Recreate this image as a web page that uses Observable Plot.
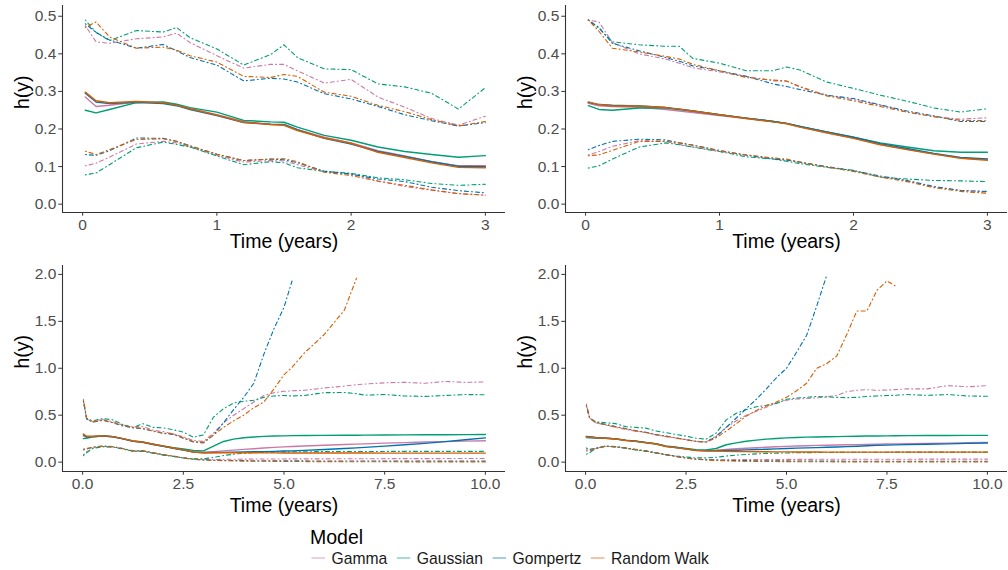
<!DOCTYPE html>
<html>
<head>
<meta charset="utf-8">
<script src="https://cdn.jsdelivr.net/npm/d3@7"></script>
<script src="https://cdn.jsdelivr.net/npm/@observablehq/plot@0.6"></script>
<style>
  html, body { margin: 0; padding: 0; background: #fff; }
  #chart { position: relative; width: 1008px; height: 570px; background: #fff; overflow: hidden; }
</style>
</head>
<body>
<div id="chart"></div>
<script>
// Hazard estimates h(y) over time: posterior mean (solid) and interval bounds (dot-dash)
const models = ["Gamma", "Gaussian", "Gompertz", "Random Walk"];
const modelColors = ["#CC79A7", "#009E73", "#0072B2", "#D55E00"];

// ---- Top row: 0–3 years ----
const tTop = [0.02, 0.1, 0.2, 0.4, 0.6, 0.7, 0.8, 1.0, 1.2, 1.4, 1.5, 1.6, 1.8, 2.0, 2.2, 2.4, 2.6, 2.8, 3.0];

// top-left
const gammaUpA = [0.475, 0.432, 0.428, 0.44, 0.445, 0.455, 0.43, 0.395, 0.362, 0.372, 0.372, 0.355, 0.322, 0.332, 0.285, 0.258, 0.228, 0.21, 0.234];
const gaussUpA = [0.49, 0.457, 0.435, 0.462, 0.458, 0.47, 0.443, 0.413, 0.37, 0.398, 0.424, 0.39, 0.36, 0.358, 0.32, 0.312, 0.295, 0.253, 0.31];
const gompUpA  = [0.48, 0.457, 0.437, 0.415, 0.425, 0.408, 0.39, 0.37, 0.328, 0.335, 0.333, 0.325, 0.294, 0.28, 0.26, 0.238, 0.222, 0.208, 0.217];
const rwUpA    = [0.47, 0.485, 0.445, 0.415, 0.418, 0.41, 0.395, 0.378, 0.34, 0.337, 0.345, 0.34, 0.298, 0.287, 0.263, 0.246, 0.225, 0.208, 0.22];
const gammaMidA = [0.285, 0.26, 0.263, 0.272, 0.27, 0.264, 0.255, 0.238, 0.22, 0.212, 0.211, 0.198, 0.178, 0.163, 0.142, 0.128, 0.113, 0.102, 0.102];
const gaussMidA = [0.25, 0.243, 0.252, 0.27, 0.272, 0.266, 0.257, 0.245, 0.223, 0.219, 0.218, 0.205, 0.183, 0.17, 0.152, 0.14, 0.132, 0.125, 0.129];
const gompMidA  = [0.295, 0.272, 0.268, 0.271, 0.268, 0.262, 0.252, 0.236, 0.217, 0.213, 0.212, 0.198, 0.175, 0.16, 0.14, 0.127, 0.113, 0.101, 0.1];
const rwMidA    = [0.298, 0.275, 0.27, 0.273, 0.27, 0.263, 0.254, 0.237, 0.218, 0.212, 0.21, 0.196, 0.176, 0.162, 0.138, 0.124, 0.11, 0.098, 0.097];
const gammaLoA = [0.102, 0.109, 0.125, 0.16, 0.167, 0.163, 0.152, 0.13, 0.112, 0.116, 0.115, 0.105, 0.086, 0.08, 0.062, 0.047, 0.037, 0.028, 0.024];
const gaussLoA = [0.078, 0.083, 0.105, 0.15, 0.165, 0.159, 0.152, 0.128, 0.105, 0.113, 0.11, 0.097, 0.087, 0.082, 0.07, 0.065, 0.055, 0.05, 0.053];
const gompLoA  = [0.132, 0.13, 0.142, 0.176, 0.175, 0.167, 0.155, 0.133, 0.116, 0.12, 0.118, 0.11, 0.088, 0.08, 0.067, 0.06, 0.045, 0.036, 0.03];
const rwLoA    = [0.141, 0.132, 0.145, 0.172, 0.174, 0.167, 0.155, 0.133, 0.116, 0.12, 0.121, 0.113, 0.085, 0.076, 0.061, 0.05, 0.038, 0.028, 0.024];

// top-right
const gammaUpB = [0.49, 0.485, 0.43, 0.4, 0.386, 0.375, 0.363, 0.352, 0.34, 0.328, 0.327, 0.313, 0.29, 0.278, 0.264, 0.245, 0.233, 0.226, 0.23];
const gaussUpB = [0.49, 0.468, 0.432, 0.424, 0.42, 0.42, 0.388, 0.375, 0.355, 0.355, 0.365, 0.357, 0.325, 0.308, 0.29, 0.274, 0.256, 0.245, 0.254];
const gompUpB  = [0.49, 0.47, 0.428, 0.408, 0.39, 0.38, 0.368, 0.355, 0.34, 0.32, 0.313, 0.305, 0.29, 0.281, 0.264, 0.248, 0.235, 0.22, 0.22];
const rwUpB    = [0.49, 0.46, 0.415, 0.405, 0.393, 0.386, 0.372, 0.355, 0.337, 0.33, 0.328, 0.312, 0.288, 0.275, 0.26, 0.245, 0.233, 0.223, 0.222];
const gammaMidB = [0.268, 0.262, 0.26, 0.258, 0.252, 0.248, 0.244, 0.236, 0.228, 0.22, 0.215, 0.206, 0.19, 0.176, 0.159, 0.146, 0.134, 0.123, 0.119];
const gaussMidB = [0.262, 0.252, 0.25, 0.256, 0.256, 0.252, 0.248, 0.238, 0.229, 0.22, 0.215, 0.207, 0.192, 0.178, 0.163, 0.152, 0.142, 0.138, 0.138];
const gompMidB  = [0.271, 0.265, 0.263, 0.261, 0.257, 0.253, 0.248, 0.238, 0.229, 0.22, 0.215, 0.207, 0.192, 0.178, 0.161, 0.148, 0.135, 0.124, 0.12];
const rwMidB    = [0.272, 0.265, 0.261, 0.261, 0.257, 0.253, 0.248, 0.238, 0.228, 0.219, 0.214, 0.205, 0.19, 0.175, 0.158, 0.145, 0.133, 0.122, 0.117];
const gammaLoB = [0.131, 0.14, 0.154, 0.169, 0.167, 0.159, 0.152, 0.14, 0.131, 0.122, 0.118, 0.111, 0.099, 0.088, 0.073, 0.062, 0.046, 0.037, 0.033];
const gaussLoB = [0.096, 0.102, 0.12, 0.152, 0.163, 0.158, 0.152, 0.14, 0.126, 0.12, 0.114, 0.108, 0.098, 0.09, 0.072, 0.067, 0.063, 0.062, 0.06];
const gompLoB  = [0.145, 0.156, 0.167, 0.173, 0.171, 0.163, 0.157, 0.143, 0.13, 0.12, 0.117, 0.112, 0.1, 0.089, 0.075, 0.063, 0.047, 0.036, 0.034];
const rwLoB    = [0.129, 0.131, 0.143, 0.167, 0.167, 0.163, 0.157, 0.142, 0.131, 0.123, 0.12, 0.112, 0.099, 0.087, 0.072, 0.06, 0.044, 0.034, 0.029];

// ---- Bottom row: 0–10 years ----
// bottom-left
const tC = [0.02, 0.1, 0.25, 0.5, 0.75, 1, 1.25, 1.5, 1.75, 2, 2.25, 2.5, 2.75, 3, 3.25, 3.5, 3.75, 4, 4.25, 4.5, 4.75, 5, 5.2, 5.5, 6, 6.5, 6.8, 7, 7.5, 8, 8.5, 9, 9.5, 10];
const gammaUpC = [0.67, 0.46, 0.43, 0.455, 0.43, 0.395, 0.375, 0.38, 0.34, 0.325, 0.3, 0.27, 0.23, 0.22, 0.31, 0.42, 0.5, 0.57, 0.64, 0.71, 0.74, 0.755, 0.76, 0.765, 0.79, 0.81, 0.825, 0.832, 0.845, 0.85, 0.84, 0.86, 0.85, 0.855];
const gaussUpC = [0.65, 0.46, 0.44, 0.465, 0.45, 0.4, 0.37, 0.41, 0.37, 0.365, 0.345, 0.32, 0.265, 0.29, 0.48, 0.57, 0.63, 0.648, 0.66, 0.69, 0.705, 0.71, 0.705, 0.71, 0.74, 0.742, 0.73, 0.714, 0.72, 0.705, 0.7, 0.71, 0.72, 0.718];
const gompUpC  = [0.65, 0.46, 0.425, 0.445, 0.42, 0.385, 0.365, 0.355, 0.33, 0.305, 0.295, 0.255, 0.215, 0.205, 0.29, 0.42, 0.56, 0.69, 0.84, 1.15, 1.42, 1.65, 1.93];
const rwUpC    = [0.66, 0.47, 0.43, 0.45, 0.42, 0.39, 0.37, 0.36, 0.33, 0.31, 0.3, 0.26, 0.22, 0.21, 0.29, 0.37, 0.44, 0.5, 0.58, 0.64, 0.78, 0.93, 1.01, 1.16, 1.36, 1.62, 1.96];
const gammaMidC = [0.28, 0.265, 0.27, 0.278, 0.27, 0.248, 0.224, 0.21, 0.19, 0.17, 0.15, 0.13, 0.11, 0.105, 0.112, 0.12, 0.128, 0.136, 0.143, 0.15, 0.157, 0.163, 0.167, 0.172, 0.18, 0.188, 0.192, 0.195, 0.202, 0.208, 0.214, 0.219, 0.224, 0.228];
const gaussMidC = [0.25, 0.255, 0.27, 0.278, 0.272, 0.25, 0.226, 0.214, 0.192, 0.172, 0.155, 0.14, 0.125, 0.12, 0.17, 0.22, 0.245, 0.26, 0.268, 0.274, 0.278, 0.28, 0.282, 0.283, 0.285, 0.286, 0.287, 0.288, 0.289, 0.29, 0.291, 0.292, 0.293, 0.294];
const gompMidC  = [0.29, 0.27, 0.272, 0.278, 0.27, 0.248, 0.223, 0.21, 0.188, 0.168, 0.148, 0.128, 0.107, 0.1, 0.102, 0.104, 0.106, 0.108, 0.11, 0.112, 0.115, 0.118, 0.12, 0.125, 0.135, 0.145, 0.152, 0.157, 0.17, 0.185, 0.2, 0.218, 0.238, 0.258];
const rwMidC    = [0.3, 0.275, 0.275, 0.28, 0.272, 0.25, 0.225, 0.212, 0.19, 0.17, 0.15, 0.13, 0.108, 0.1, 0.1, 0.1, 0.1, 0.1, 0.1, 0.099, 0.099, 0.098, 0.098, 0.098, 0.097, 0.097, 0.097, 0.097, 0.096, 0.096, 0.096, 0.096, 0.096, 0.096];
const gammaLoC = [0.08, 0.11, 0.15, 0.165, 0.16, 0.14, 0.118, 0.118, 0.098, 0.078, 0.063, 0.045, 0.032, 0.028, 0.028, 0.03, 0.031, 0.032, 0.033, 0.033, 0.034, 0.034, 0.035, 0.035, 0.035, 0.036, 0.036, 0.036, 0.037, 0.037, 0.037, 0.038, 0.038, 0.038];
const gaussLoC = [0.07, 0.1, 0.145, 0.165, 0.16, 0.14, 0.115, 0.115, 0.095, 0.075, 0.06, 0.045, 0.035, 0.035, 0.05, 0.07, 0.085, 0.095, 0.1, 0.104, 0.107, 0.109, 0.11, 0.111, 0.112, 0.113, 0.113, 0.114, 0.114, 0.115, 0.115, 0.115, 0.115, 0.115];
const gompLoC  = [0.13, 0.14, 0.158, 0.172, 0.165, 0.145, 0.12, 0.122, 0.1, 0.08, 0.065, 0.045, 0.03, 0.023, 0.02, 0.018, 0.017, 0.016, 0.015, 0.014, 0.014, 0.013, 0.013, 0.013, 0.012, 0.012, 0.012, 0.012, 0.011, 0.011, 0.011, 0.011, 0.011, 0.011];
const rwLoC    = [0.14, 0.145, 0.16, 0.17, 0.165, 0.145, 0.12, 0.12, 0.1, 0.08, 0.065, 0.045, 0.03, 0.022, 0.018, 0.015, 0.013, 0.011, 0.01, 0.009, 0.008, 0.007, 0.007, 0.006, 0.005, 0.005, 0.004, 0.004, 0.004, 0.003, 0.003, 0.003, 0.003, 0.003];

// bottom-right
const tD = [0.02, 0.1, 0.25, 0.5, 0.75, 1, 1.25, 1.5, 1.75, 2, 2.25, 2.5, 2.75, 3, 3.25, 3.5, 3.75, 4, 4.25, 4.5, 4.75, 5, 5.25, 5.5, 5.75, 6, 6.25, 6.5, 6.75, 7, 7.25, 7.5, 7.7, 8, 8.5, 9, 9.5, 10];
const gammaUpD = [0.62, 0.47, 0.42, 0.395, 0.37, 0.35, 0.33, 0.315, 0.29, 0.272, 0.255, 0.238, 0.222, 0.215, 0.28, 0.37, 0.44, 0.5, 0.542, 0.585, 0.63, 0.66, 0.672, 0.678, 0.685, 0.695, 0.71, 0.75, 0.765, 0.772, 0.765, 0.768, 0.772, 0.78, 0.78, 0.815, 0.803, 0.815];
const gaussUpD = [0.6, 0.47, 0.43, 0.42, 0.41, 0.378, 0.37, 0.362, 0.332, 0.315, 0.295, 0.277, 0.255, 0.245, 0.31, 0.45, 0.52, 0.56, 0.59, 0.605, 0.625, 0.67, 0.683, 0.69, 0.7, 0.695, 0.69, 0.686, 0.69, 0.7, 0.705, 0.71, 0.712, 0.72, 0.712, 0.72, 0.705, 0.702];
const gompUpD  = [0.6, 0.47, 0.425, 0.402, 0.378, 0.358, 0.336, 0.318, 0.295, 0.278, 0.26, 0.24, 0.222, 0.214, 0.27, 0.37, 0.47, 0.57, 0.67, 0.78, 0.9, 1.0, 1.17, 1.35, 1.66, 1.99];
const rwUpD    = [0.6, 0.47, 0.42, 0.4, 0.375, 0.355, 0.333, 0.316, 0.292, 0.275, 0.257, 0.238, 0.22, 0.212, 0.26, 0.33, 0.41, 0.49, 0.55, 0.6, 0.64, 0.69, 0.76, 0.84, 1.0, 1.05, 1.13, 1.36, 1.61, 1.61, 1.83, 1.93, 1.88];
const gammaMidD = [0.272, 0.268, 0.26, 0.255, 0.247, 0.232, 0.222, 0.208, 0.194, 0.168, 0.156, 0.141, 0.126, 0.123, 0.127, 0.134, 0.142, 0.148, 0.153, 0.158, 0.164, 0.168, 0.172, 0.175, 0.178, 0.18, 0.182, 0.185, 0.187, 0.189, 0.191, 0.193, 0.194, 0.196, 0.198, 0.203, 0.206, 0.21];
const gaussMidD = [0.262, 0.258, 0.256, 0.254, 0.248, 0.234, 0.224, 0.21, 0.196, 0.172, 0.16, 0.145, 0.132, 0.13, 0.145, 0.185, 0.205, 0.222, 0.235, 0.245, 0.252, 0.258, 0.263, 0.266, 0.268, 0.27, 0.272, 0.274, 0.276, 0.278, 0.279, 0.28, 0.281, 0.282, 0.283, 0.284, 0.285, 0.285];
const gompMidD  = [0.275, 0.27, 0.262, 0.256, 0.248, 0.232, 0.222, 0.208, 0.194, 0.168, 0.156, 0.141, 0.125, 0.121, 0.122, 0.124, 0.127, 0.131, 0.134, 0.137, 0.141, 0.145, 0.149, 0.152, 0.155, 0.158, 0.161, 0.165, 0.169, 0.175, 0.178, 0.181, 0.184, 0.187, 0.191, 0.195, 0.2, 0.204];
const rwMidD    = [0.27, 0.266, 0.26, 0.255, 0.247, 0.231, 0.221, 0.207, 0.193, 0.167, 0.155, 0.14, 0.124, 0.12, 0.118, 0.115, 0.113, 0.112, 0.111, 0.11, 0.109, 0.109, 0.108, 0.108, 0.108, 0.107, 0.107, 0.107, 0.107, 0.107, 0.107, 0.107, 0.107, 0.107, 0.107, 0.107, 0.107, 0.107];
const gammaLoD = [0.12, 0.12, 0.14, 0.168, 0.162, 0.15, 0.133, 0.118, 0.098, 0.078, 0.06, 0.045, 0.032, 0.027, 0.026, 0.026, 0.027, 0.027, 0.028, 0.028, 0.028, 0.029, 0.029, 0.029, 0.03, 0.03, 0.03, 0.03, 0.03, 0.031, 0.031, 0.031, 0.031, 0.031, 0.032, 0.032, 0.032, 0.032];
const gaussLoD = [0.085, 0.1, 0.145, 0.17, 0.162, 0.148, 0.13, 0.115, 0.097, 0.08, 0.065, 0.055, 0.045, 0.045, 0.052, 0.065, 0.075, 0.082, 0.088, 0.093, 0.096, 0.098, 0.1, 0.101, 0.102, 0.103, 0.104, 0.105, 0.105, 0.106, 0.106, 0.106, 0.107, 0.107, 0.107, 0.107, 0.107, 0.107];
const gompLoD  = [0.15, 0.135, 0.15, 0.172, 0.165, 0.152, 0.135, 0.12, 0.1, 0.08, 0.062, 0.045, 0.032, 0.026, 0.022, 0.019, 0.017, 0.016, 0.015, 0.014, 0.013, 0.013, 0.012, 0.012, 0.011, 0.011, 0.011, 0.01, 0.01, 0.01, 0.01, 0.01, 0.01, 0.01, 0.01, 0.01, 0.01, 0.01];
const rwLoD    = [0.13, 0.125, 0.145, 0.17, 0.164, 0.15, 0.133, 0.118, 0.098, 0.078, 0.06, 0.043, 0.03, 0.023, 0.018, 0.014, 0.011, 0.009, 0.008, 0.007, 0.006, 0.005, 0.005, 0.004, 0.004, 0.004, 0.003, 0.003, 0.003, 0.003, 0.003, 0.003, 0.003, 0.003, 0.003, 0.003, 0.003, 0.003];

// Axis ticks
const yTicksTop = [0, 0.1, 0.2, 0.3, 0.4, 0.5];
const xTicksTop = [0, 1, 2, 3];
const yTicksBottom = [0, 0.5, 1, 1.5, 2];
const xTicksBottom = [0, 2.5, 5, 7.5, 10];

// ---------------------------------------------------------------
const fontFamily = '"Liberation Sans", Arial, Helvetica, sans-serif';
const fmt1 = d3.format(".1f");
const fmt0 = d3.format("d");

function buildRows(times, series) {
  return series.flatMap(([model, band, values]) =>
    values.map((v, i) => ({t: times[i], v, model, band, key: model + " " + band})));
}

function seriesSet(up, mid, lo) {
  // up/mid/lo: arrays ordered like `models`
  return models.flatMap((m, i) => [[m, "upper", up[i]], [m, "estimate", mid[i]], [m, "lower", lo[i]]]);
}

const rowsA = buildRows(tTop, seriesSet(
  [gammaUpA, gaussUpA, gompUpA, rwUpA], [gammaMidA, gaussMidA, gompMidA, rwMidA], [gammaLoA, gaussLoA, gompLoA, rwLoA]));
const rowsB = buildRows(tTop, seriesSet(
  [gammaUpB, gaussUpB, gompUpB, rwUpB], [gammaMidB, gaussMidB, gompMidB, rwMidB], [gammaLoB, gaussLoB, gompLoB, rwLoB]));
const rowsC = buildRows(tC, seriesSet(
  [gammaUpC, gaussUpC, gompUpC, rwUpC], [gammaMidC, gaussMidC, gompMidC, rwMidC], [gammaLoC, gaussLoC, gompLoC, rwLoC]));
const rowsD = buildRows(tD, seriesSet(
  [gammaUpD, gaussUpD, gompUpD, rwUpD], [gammaMidD, gaussMidD, gompMidD, rwMidD], [gammaLoD, gaussLoD, gompLoD, rwLoD]));

const container = document.getElementById("chart");

function drawPanel({rows, left, top, width, height, marginTop, marginBottom, marginRight, titleDy, xDomain, yDomain, xTicks, yTicks, xFormat}) {
  const estimates = rows.filter(d => d.band === "estimate");
  const bounds = rows.filter(d => d.band !== "estimate");
  const svg = Plot.plot({
    width, height,
    marginLeft: 62, marginRight, marginTop, marginBottom,
    style: {fontFamily, background: "transparent", overflow: "visible"},
    x: {domain: xDomain},
    y: {domain: yDomain},
    color: {domain: models, range: modelColors},
    marks: [
      Plot.line(bounds, {x: "t", y: "v", z: "key", stroke: "model", strokeWidth: 1.1, strokeDasharray: "1,3,4,3"}),
      Plot.line(estimates, {x: "t", y: "v", z: "key", stroke: "model", strokeWidth: 1.4}),
      Plot.ruleX([xDomain[0]], {stroke: "#333", strokeWidth: 1.1}),
      Plot.ruleY([yDomain[0]], {stroke: "#333", strokeWidth: 1.1}),
      Plot.axisX({ticks: xTicks, tickFormat: xFormat, tickSize: 3.7, tickPadding: 2.5, stroke: "#333",
                  fill: "#4D4D4D", fontSize: 15.5, label: null}),
      Plot.axisY({ticks: yTicks, tickFormat: fmt1, tickSize: 3.7, tickPadding: 2.5, stroke: "#333",
                  fill: "#4D4D4D", fontSize: 15.5, label: null}),
      Plot.text(["Time (years)"], {frameAnchor: "bottom", dy: titleDy, fontSize: 19.5, fill: "#000"}),
      Plot.text(["h(y)"], {frameAnchor: "left", dx: -40, rotate: -90, fontSize: 19.5, fill: "#000"})
    ]
  });
  svg.style.position = "absolute";
  svg.style.left = left + "px";
  svg.style.top = top + "px";
  container.append(svg);
}

const yDomainTop = [-0.0222, 0.5286];
const yDomainBottom = [-0.0998, 2.0948];

drawPanel({rows: rowsA, left: 0, top: 0, width: 507, height: 255, marginTop: 5, marginBottom: 43, marginRight: 2, titleDy: 35,
  xDomain: [-0.15, 3.15], yDomain: yDomainTop, xTicks: xTicksTop, yTicks: yTicksTop, xFormat: fmt0});
drawPanel({rows: rowsB, left: 503, top: 0, width: 505, height: 255, marginTop: 5, marginBottom: 43, marginRight: 1, titleDy: 35,
  xDomain: [-0.15, 3.15], yDomain: yDomainTop, xTicks: xTicksTop, yTicks: yTicksTop, xFormat: fmt0});
drawPanel({rows: rowsC, left: 0, top: 255, width: 507, height: 260, marginTop: 10, marginBottom: 44, marginRight: 2, titleDy: 40,
  xDomain: [-0.5, 10.5], yDomain: yDomainBottom, xTicks: xTicksBottom, yTicks: yTicksBottom, xFormat: fmt1});
drawPanel({rows: rowsD, left: 503, top: 255, width: 505, height: 260, marginTop: 10, marginBottom: 44, marginRight: 1, titleDy: 40,
  xDomain: [-0.5, 10.5], yDomain: yDomainBottom, xTicks: xTicksBottom, yTicks: yTicksBottom, xFormat: fmt1});

// Legend
const legend = d3.select(container).append("svg")
  .attr("width", 1008).attr("height", 55)
  .style("position", "absolute").style("left", "0px").style("top", "515px")
  .style("font-family", fontFamily);

legend.append("text")
  .attr("x", 310).attr("y", 29)
  .attr("font-size", 19.5).attr("fill", "#000")
  .text("Model");

let cursor = 311.5;
models.forEach((m, i) => {
  legend.append("line")
    .attr("x1", cursor).attr("x2", cursor + 13.5)
    .attr("y1", 43).attr("y2", 43)
    .attr("stroke", modelColors[i]).attr("stroke-opacity", 0.5).attr("stroke-width", 1.4);
  const label = legend.append("text")
    .attr("x", cursor + 20).attr("y", 48.6)
    .attr("font-size", 15.7).attr("fill", "#1A1A1A")
    .text(m);
  cursor = cursor + 20 + label.node().getComputedTextLength() + 9.5;
});
</script>
</body>
</html>
